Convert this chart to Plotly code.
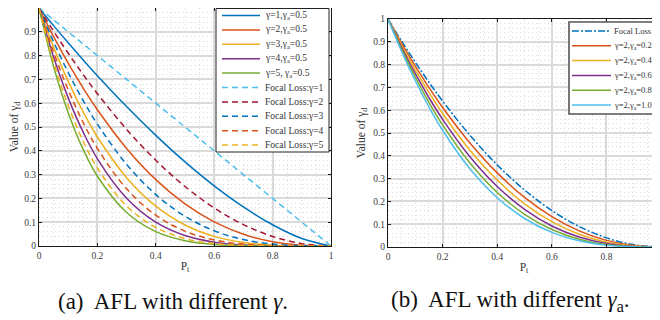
import plotly.graph_objects as go

# The page body keeps the browser's default 8px margin, so the figure is sized to
# fit the 660x320 window and every pixel position below is given in window pixels.
WIN_W, WIN_H = 660, 320
OFF = 8
W, H = WIN_W - OFF, WIN_H - OFF

# ---------------- data ----------------
pt = [0, 0.05, 0.1, 0.15, 0.2, 0.3, 0.4, 0.5, 0.6, 0.7, 0.8, 0.9, 1.0]

# panel (a): AFL with gamma_a = 0.5
afl_g1 = [1, .9260, .8538, .7837, .7155, .5857, .4648, .3536, .2530, .1643, .0894, .0316, 0]
afl_g2 = [1, .8796, .7684, .6661, .5724, .4100, .2789, .1768, .1012, .0493, .0179, .0032, 0]
afl_g3 = [1, .8357, .6916, .5662, .4579, .2870, .1673, .0884, .0405, .0148, .0036, .0003, 0]
afl_g4 = [1, .7939, .6224, .4813, .3664, .2009, .1004, .0442, .0162, .0044, .0007, 0, 0]
afl_g5 = [1, .7542, .5602, .4091, .2931, .1406, .0603, .0221, .0065, .0013, .0001, 0, 0]
# panel (a): focal loss
fl_g1 = [1, .95, .9, .85, .8, .7, .6, .5, .4, .3, .2, .1, 0]
fl_g2 = [1, .9025, .81, .7225, .64, .49, .36, .25, .16, .09, .04, .01, 0]
fl_g3 = [1, .8574, .729, .6141, .512, .343, .216, .125, .064, .027, .008, .001, 0]
fl_g4 = [1, .8145, .6561, .5220, .4096, .2401, .1296, .0625, .0256, .0081, .0016, .0001, 0]
fl_g5 = [1, .7738, .5905, .4437, .3277, .1681, .0778, .0313, .0102, .0024, .0003, 0, 0]

# panel (b): gamma = 2
fl_b = [1, .9025, .81, .7225, .64, .49, .36, .25, .16, .09, .04, .01, 0]
afl_a02 = [1, .8933, .7931, .6994, .6121, .4563, .3250, .2176, .1332, .0707, .0290, .0063, 0]
afl_a04 = [1, .8842, .7766, .6770, .5854, .4248, .2935, .1895, .1109, .0556, .0210, .0040, 0]
afl_a06 = [1, .8751, .7604, .6554, .5598, .3956, .2650, .1649, .0923, .0437, .0152, .0025, 0]
afl_a08 = [1, .8662, .7445, .6344, .5354, .3684, .2392, .1436, .0769, .0344, .0110, .0016, 0]
afl_a10 = [1, .8574, .729, .6141, .512, .343, .216, .125, .064, .027, .008, .001, 0]

names_a = ["γ=1,γ<sub>a</sub>=0.5", "γ=2,γ<sub>a</sub>=0.5", "γ=3,γ<sub>a</sub>=0.5",
           "γ=4,γ<sub>a</sub>=0.5", "γ=5, γ<sub>a</sub>=0.5",
           "Focal Loss:γ=1", "Focal Loss:γ=2", "Focal Loss:γ=3",
           "Focal Loss:γ=4", "Focal Loss:γ=5"]
series_a = [afl_g1, afl_g2, afl_g3, afl_g4, afl_g5, fl_g1, fl_g2, fl_g3, fl_g4, fl_g5]

names_b = ["Focal Loss", "γ=2,γ<sub>a</sub>=0.2", "γ=2,γ<sub>a</sub>=0.4",
           "γ=2,γ<sub>a</sub>=0.6", "γ=2,γ<sub>a</sub>=0.8", "γ=2,γ<sub>a</sub>=1.0"]
series_b = [fl_b, afl_a02, afl_a04, afl_a06, afl_a08, afl_a10]

# ---------------- styles ----------------
BLUE, ORANGE, YELLOW = "#0072BD", "#D95319", "#EDB120"
PURPLE, GREEN, LBLUE, DRED = "#7E2F8E", "#77AC30", "#4DBEEE", "#A2142F"
DASH = "6px,4px"
DASHDOT = "7px,2px,2px,2px"

colors_a = [BLUE, ORANGE, YELLOW, PURPLE, GREEN, LBLUE, DRED, BLUE, ORANGE, YELLOW]
dashes_a = ["solid"] * 5 + [DASH] * 5
colors_b = [BLUE, ORANGE, YELLOW, PURPLE, GREEN, LBLUE]
dashes_b = [DASHDOT] + ["solid"] * 5

FONT = "Liberation Serif"

fig = go.Figure()
for name, ys, c, d in zip(names_a, series_a, colors_a, dashes_a):
    fig.add_trace(go.Scatter(x=pt, y=ys, mode="lines", name=name, showlegend=False,
                             line=dict(color=c, width=1.5, dash=d, shape="spline"),
                             xaxis="x", yaxis="y"))
for name, ys, c, d in zip(names_b, series_b, colors_b, dashes_b):
    fig.add_trace(go.Scatter(x=pt, y=ys, mode="lines", name=name, showlegend=False,
                             line=dict(color=c, width=1.5, dash=d, shape="spline"),
                             xaxis="x2", yaxis="y2"))


def px_x(p):
    return (p - OFF) / W


def px_y(p):
    return 1 - (p - OFF) / H


def clamp(v):
    return max(0.0, min(1.0, v))


common = dict(
    showline=True, linecolor="#1a1a1a", linewidth=1.2,
    ticks="inside", ticklen=3, tickcolor="#1a1a1a", tickwidth=1,
    showgrid=True, gridcolor="#dadada", gridwidth=1.6,
    zeroline=False, automargin=False,
    tickfont=dict(family=FONT, size=9.5, color="#3a3a3a"),
)

ax_x = dict(common, range=[0, 1], dtick=0.2, tick0=0,
            minor=dict(dtick=0.05, showgrid=True, gridcolor="#dcdcdc",
                       griddash="1px,3px", gridwidth=1, ticks=""))
ax_y = dict(common, range=[0, 1], dtick=0.1, tick0=0,
            minor=dict(dtick=0.02, showgrid=True, gridcolor="#dcdcdc",
                       griddash="1px,3px", gridwidth=1, ticks=""))

title_font = dict(family=FONT, size=11.5, color="#333333")

fig.update_layout(
    width=W, height=H,
    margin=dict(l=0, r=0, t=0, b=0, autoexpand=False),
    paper_bgcolor="white", plot_bgcolor="white",
    font=dict(family=FONT),
    xaxis=dict(ax_x, domain=[px_x(39), px_x(331)], anchor="y", mirror="ticks",
               title=dict(text="P<sub>t</sub>", font=title_font, standoff=2)),
    yaxis=dict(ax_y, domain=[clamp(px_y(246)), clamp(px_y(7))], anchor="x", mirror="ticks",
               title=dict(text="Value of γ<sub>d</sub>", font=title_font, standoff=9)),
    xaxis2=dict(ax_x, range=[0, 0.996], domain=[px_x(388), 1.0], anchor="y2", mirror="ticks",
                title=dict(text="P<sub>t</sub>", font=title_font, standoff=2)),
    yaxis2=dict(ax_y, domain=[px_y(247), px_y(19)], anchor="x2", mirror=False,
                title=dict(text="Value of γ<sub>d</sub>", font=title_font, standoff=5)),
)

shapes = []
annotations = []


def add_legend(box, rows_y, line_x0, line_x1, text_x, names, colors, dashes, fsize, bcolor, bwidth):
    x0, y0, x1, y1 = box
    shapes.append(dict(type="rect", xref="paper", yref="paper", layer="above",
                       x0=px_x(x0), x1=px_x(x1), y0=px_y(y1), y1=px_y(y0),
                       fillcolor="white", line=dict(color=bcolor, width=bwidth)))
    for ry, name, c, d in zip(rows_y, names, colors, dashes):
        shapes.append(dict(type="line", xref="paper", yref="paper", layer="above",
                           x0=px_x(line_x0), x1=px_x(line_x1), y0=px_y(ry), y1=px_y(ry),
                           line=dict(color=c, width=1.5, dash=d)))
        annotations.append(dict(xref="paper", yref="paper", x=px_x(text_x), y=px_y(ry),
                                xanchor="left", yanchor="middle", showarrow=False,
                                text=name, font=dict(family=FONT, size=fsize, color="#333333")))


rows_a = [15.5 + 14.4 * i for i in range(len(names_a))]
add_legend((216, 8.5, 329, 152), rows_a, 222, 260, 263, names_a, colors_a, dashes_a,
           9.5, "#222222", 1)
rows_b = [31 + 14.8 * i for i in range(len(names_b))]
add_legend((569, 22, 658, 114), rows_b, 572, 611, 612, names_b, colors_b, dashes_b,
           8.5, "#555555", 1.6)

annotations.append(dict(xref="paper", yref="paper", x=px_x(173), y=px_y(301),
                        xanchor="center", yanchor="middle", showarrow=False,
                        text="(a)  AFL with different <i>γ</i>.",
                        font=dict(family=FONT, size=23, color="#111111")))
annotations.append(dict(xref="paper", yref="paper", x=px_x(510), y=px_y(301),
                        xanchor="center", yanchor="middle", showarrow=False,
                        text="(b)  AFL with different <i>γ</i><sub>a</sub>.",
                        font=dict(family=FONT, size=23, color="#111111")))

fig.update_layout(shapes=shapes, annotations=annotations)

fig.write_html("out.html")
